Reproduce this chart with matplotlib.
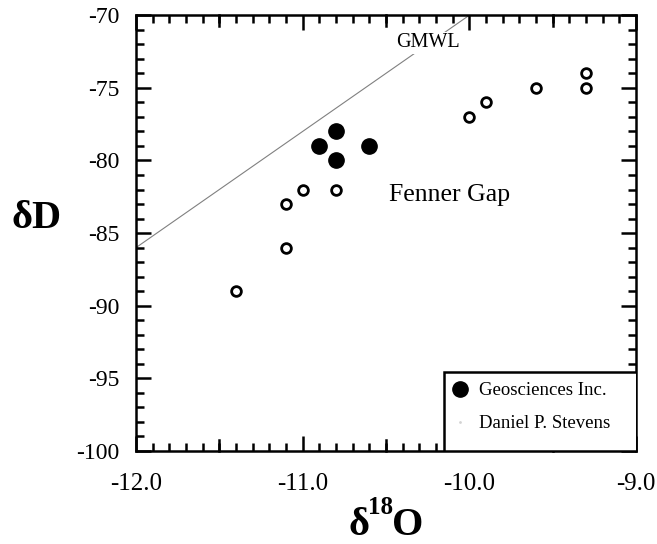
import matplotlib.pyplot as plt
import numpy as np
from matplotlib.ticker import MultipleLocator, FixedLocator
from matplotlib.lines import Line2D
from matplotlib.patches import Rectangle

plt.rcParams['font.family'] = ['Liberation Serif', 'DejaVu Serif']
plt.rcParams['axes.unicode_minus'] = False

# datos
geo_d18o = [-10.9, -10.8, -10.8, -10.6]
geo_dd = [-79, -78, -80, -79]
stevens_d18o = [-11.4, -11.1, -11.1, -11.0, -10.8, -10.0, -9.9, -9.6, -9.3, -9.3]
stevens_dd = [-89, -86, -83, -82, -82, -77, -76, -75, -75, -74]

# linea meteorica global
gmwl_x = np.array([-12.0, -10.0])
gmwl_y = 8 * gmwl_x + 10

fig = plt.figure(figsize=(6.57, 5.44), dpi=100)
ax = fig.add_axes([0.207, 0.171, 0.761, 0.801])

ax.plot(gmwl_x, gmwl_y, color='gray', lw=0.8, zorder=1)
ax.text(-10.25, -71.9, "GMWL", fontsize=14.5, ha='center', va='center',
        bbox=dict(facecolor='white', edgecolor='none', pad=1), zorder=2)

ax.plot(stevens_d18o, stevens_dd, 'o', ms=7, mfc='white', mec='black', mew=2, zorder=3)
ax.plot(geo_d18o, geo_dd, 'o', ms=11, color='black', zorder=3)

ax.text(-10.12, -82.4, "Fenner Gap", fontsize=18.5, ha='center', va='center')

ax.set_xlim(-12, -9)
ax.set_ylim(-100, -70)
ax.xaxis.set_major_locator(FixedLocator([-12, -11, -10, -9]))
ax.xaxis.set_minor_locator(MultipleLocator(0.1))
ax.yaxis.set_major_locator(MultipleLocator(5))
ax.yaxis.set_minor_locator(MultipleLocator(1))
ax.set_xticklabels(["-12.0", "-11.0", "-10.0", "-9.0"])
ax.tick_params(which='both', direction='in', top=True, right=True, labelsize=17)
ax.tick_params(axis='x', labelsize=18)
ax.tick_params(which='major', length=11, width=1.8, pad=12)
ax.tick_params(axis='x', which='major', pad=16)
ax.tick_params(which='minor', length=6, width=1.8)
# ticks intermedios de 0.5 mas largos
for xv in [-11.5, -10.5, -9.5]:
    ax.plot([xv, xv], [-100, -100 + 11 / 14.5], color='black', lw=1.8, clip_on=False)
    ax.plot([xv, xv], [-70, -70 - 11 / 14.5], color='black', lw=1.8, clip_on=False)
for s in ax.spines.values():
    s.set_linewidth(1.8)

fig.text(0.562, 0.034, "δ", fontsize=29, ha='right', va='center', fontweight='bold')
fig.text(0.560, 0.046, "18", fontsize=18, ha='left', va='bottom', fontweight='bold')
fig.text(0.597, 0.034, "O", fontsize=29, ha='left', va='center', fontweight='bold')
fig.text(0.055, 0.598, "δD", fontsize=29, ha='center', va='center', fontweight='bold')

# cuadro de la leyenda
ax.add_patch(Rectangle((0.616, 0.0), 0.4, 0.181, transform=ax.transAxes,
                       facecolor='white', edgecolor='black', lw=1.8, zorder=4,
                       clip_on=True))
handles = [Line2D([], [], marker='o', ls='none', color='black', ms=11),
           Line2D([], [], marker='o', ls='none', mfc='white', mec='lightgray', ms=1)]
leg = ax.legend(handles, ["Geosciences Inc.", "Daniel P. Stevens"], loc='upper left',
                bbox_to_anchor=(0.633, 0.158), borderaxespad=0, borderpad=0,
                frameon=False, fontsize=13.5, handlelength=0.8, handletextpad=0.6,
                labelspacing=0.85)
leg.set_zorder(5)

plt.savefig("out.png", dpi=100)
